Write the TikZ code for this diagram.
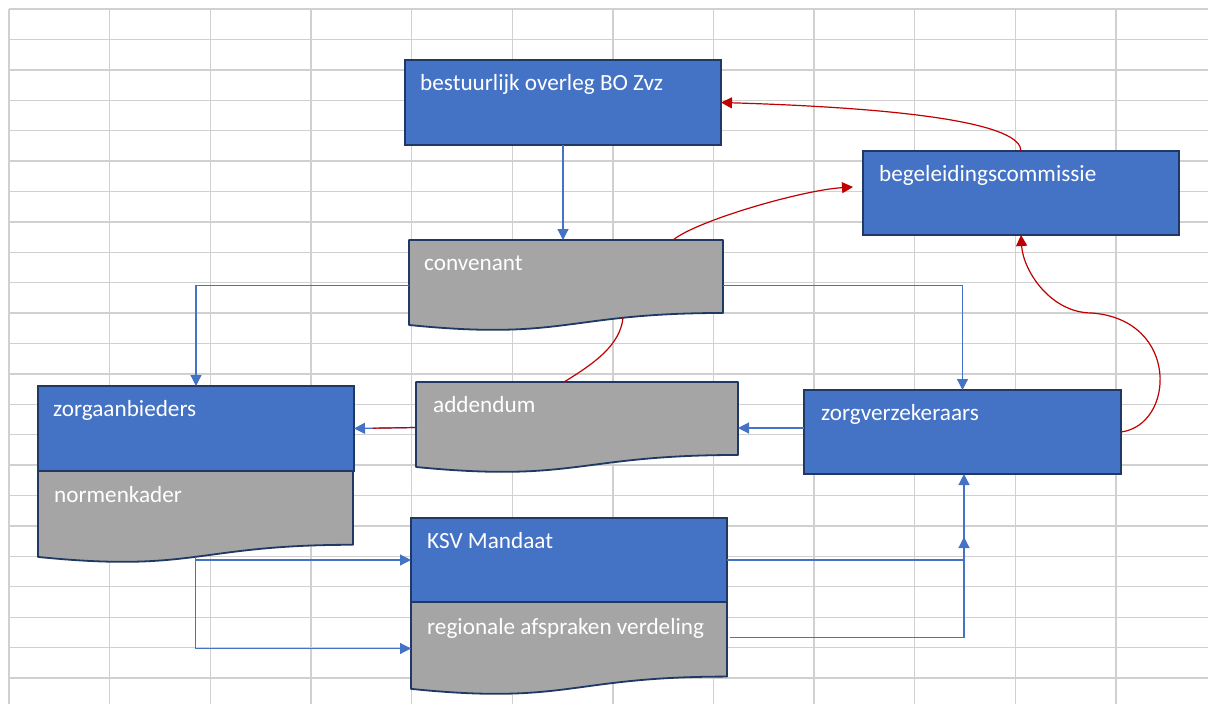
\documentclass[tikz,border=0pt]{standalone}
\usepackage{fontspec}
\setmainfont{Carlito}
\usetikzlibrary{arrows.meta,calc}
\definecolor{gridc}{HTML}{D0D0D0}
\definecolor{boxblue}{HTML}{4472C4}
\definecolor{boxgray}{HTML}{A5A5A5}
\definecolor{navy}{HTML}{1F3864}
\definecolor{linkblue}{HTML}{4472C4}
\definecolor{linkred}{HTML}{C00000}
\newcommand{\docpath}[1]{\draw[docshape] (#1.north west) -- (#1.north east) -- ($(#1.north east)!0.802!(#1.south east)$) .. controls ($(#1.north)!0.802!(#1.south)$) and ($(#1.north)!1.1075!(#1.south)$) .. ($(#1.north west)!0.934!(#1.south west)$) -- cycle;}
\begin{document}
\begin{tikzpicture}[x=1pt,y=-1pt,
 bluebox/.style={rectangle, draw=navy, fill=boxblue, line width=1.8pt, inner sep=0pt, outer sep=0pt},
 docnode/.style={rectangle, draw=none, inner sep=0pt, outer sep=0pt},
 docshape/.style={draw=navy, fill=boxgray, line width=1.8pt, line join=round},
 lbl/.style={text=white, font=\fontsize{23.2}{28}\selectfont, inner sep=0pt, anchor=base west},
 bl/.style={draw=linkblue, line width=1.2pt, -{Triangle[length=11pt,width=11pt]}},
 rd/.style={draw=linkred, line width=1.2pt, -{Triangle[length=11pt,width=11pt]}},
 rdline/.style={draw=linkred, line width=1.2pt},
 gridline/.style={draw=gridc, line width=1.4pt}]
\fill[white] (0,0) rectangle (1208,704);
\useasboundingbox (0,0) rectangle (1208,704);
\foreach \i in {0,...,11} \draw[gridline] (9+100.64*\i, 9) -- (9+100.64*\i, 704);
\foreach \j in {0,...,22} \draw[gridline] (9, 9+30.41*\j) -- (1208, 9+30.41*\j);

% document shapes
\node[docnode, minimum width=314pt, minimum height=91pt] (conv) at (566,285.5) {};
\node[docnode, minimum width=322pt, minimum height=91pt] (add) at (577,427.5) {};
\node[docnode, minimum width=315pt, minimum height=92pt] (nk) at (195.5,517) {};
\node[docnode, minimum width=316pt, minimum height=93pt] (reg) at (569,648.5) {};
\docpath{conv}
\docpath{add}
\docpath{nk}
\docpath{reg}

% blue boxes
\node[bluebox, minimum width=316pt, minimum height=85pt] (bo) at (563,102.5) {};
\node[bluebox, minimum width=316pt, minimum height=84pt] (bc) at (1021,193) {};
\node[bluebox, minimum width=316pt, minimum height=85pt] (za) at (196,428.5) {};
\node[bluebox, minimum width=317pt, minimum height=84pt] (zv) at (962.5,432) {};
\node[bluebox, minimum width=316pt, minimum height=84pt] (ksv) at (569,560) {};

% labels
\node[lbl] (tbo) at ([shift={(15pt,-30pt)}]bo.north west) {bestuurlijk overleg BO Zvz};
\node[lbl] (tbc) at ([shift={(16pt,-30pt)}]bc.north west) {begeleidingscommissie};
\node[lbl] (tconv) at ([shift={(15pt,-30pt)}]conv.north west) {convenant};
\node[lbl] (tadd) at ([shift={(17pt,-30pt)}]add.north west) {addendum};
\node[lbl] (tza) at ([shift={(15pt,-30pt)}]za.north west) {zorgaanbieders};
\node[lbl] (tnk) at ([shift={(16pt,-31pt)}]nk.north west) {normenkader};
\node[lbl] (tzv) at ([shift={(17pt,-30pt)}]zv.north west) {zorgverzekeraars};
\node[lbl] (tksv) at ([shift={(16pt,-30pt)}]ksv.north west) {KSV Mandaat};
\node[lbl] (treg) at ([shift={(16pt,-32pt)}]reg.north west) {regionale afspraken verdeling};

% blue connectors
\draw[bl] (bo.south) -- (bo.south |- conv.north);
\draw[bl] (conv.west) -| (za.north);
\draw[bl] (conv.east) -| (zv.north);
\draw[bl] ([yshift=4pt]zv.west) -- ([yshift=4pt]zv.west -| add.east);
\draw[bl] (add.west) -- (za.east);
\draw[rdline] (add.west) -- ($(add.west)!0.7!(za.east)$);
\coordinate (nkout) at ($(nk.north)!0.933!(nk.south)$);
\draw[bl] (nkout) |- (ksv.west);
\draw[bl] (nkout) |- (reg.west);
\coordinate (kend) at ($(zv.south)+(1.5,63)$);
\draw[bl] (ksv.east) -| (kend);
\draw[bl] ([xshift=3pt,yshift=11pt]reg.east) -| ([xshift=1.5pt]zv.south);

% red connectors
\draw[rd] (bc.north) .. controls +(0,-26) and +(199,6) .. (bo.east);
\draw[rd] ([xshift=107pt]conv.north) .. controls +(25,-20) and +(-50,3) .. ([xshift=-10pt,yshift=6pt]bc.west);
\draw[rd] (zv.east) .. controls (1175,425) and (1180,320) .. (1092,313) .. controls (1050,313) and (1023,270) .. (bc.south);
\draw[rdline] ([xshift=57pt,yshift=13pt]conv.south) .. controls +(-3,27) and +(31,-19) .. ([xshift=-13pt]add.north);
\end{tikzpicture}
\end{document}
